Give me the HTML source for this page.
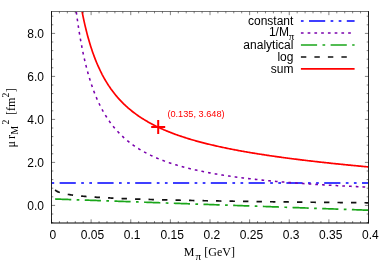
<!DOCTYPE html>
<html><head><meta charset="utf-8"><title>plot</title><style>html,body{margin:0;padding:0;background:#fff}svg{display:block;will-change:transform}</style></head><body>
<svg width="390" height="273" viewBox="0 0 390 273">
<defs><clipPath id="c"><rect x="51.50" y="11.55" width="317.00" height="211.40"/></clipPath></defs>
<rect width="100%" height="100%" fill="#fff"/>
<g clip-path="url(#c)" fill="none" stroke-width="1.70">
<path d="M51.50,183.00 H368.50" stroke="#0000ff" stroke-dasharray="2.70 5.40 16.20 5.40 2.70 5.40"/>
<path d="M76.31,11.90 L77.28,19.14 L78.26,25.85 L79.23,32.09 L80.20,37.90 L81.18,43.33 L82.15,48.42 L83.12,53.19 L84.10,57.68 L85.07,61.91 L86.05,65.90 L87.02,69.67 L87.99,73.24 L88.97,76.62 L89.94,79.83 L90.92,82.88 L91.89,85.79 L92.86,88.55 L93.84,91.19 L94.81,93.71 L95.79,96.12 L96.76,98.43 L97.73,100.64 L98.71,102.76 L99.68,104.79 L100.66,106.74 L101.63,108.61 L102.60,110.42 L103.58,112.15 L104.55,113.82 L105.53,115.43 L106.50,116.99 L107.47,118.49 L108.45,119.93 L109.42,121.33 L110.40,122.69 L111.37,124.00 L112.34,125.26 L113.32,126.49 L114.29,127.68 L115.27,128.83 L116.24,129.95 L117.21,131.03 L118.19,132.08 L119.16,133.10 L120.14,134.10 L121.11,135.06 L122.08,136.00 L123.06,136.91 L124.03,137.80 L125.01,138.66 L125.98,139.50 L126.95,140.32 L127.93,141.12 L128.90,141.90 L129.88,142.66 L130.85,143.40 L131.82,144.12 L132.80,144.82 L133.77,145.51 L134.75,146.18 L135.72,146.84 L136.69,147.48 L137.67,148.10 L138.64,148.72 L139.62,149.31 L140.59,149.90 L141.56,150.47 L142.54,151.03 L143.51,151.58 L144.49,152.12 L145.46,152.64 L146.43,153.16 L147.41,153.66 L148.38,154.15 L149.36,154.64 L150.33,155.11 L151.30,155.58 L152.28,156.03 L153.25,156.48 L154.23,156.92 L155.20,157.35 L156.17,157.77 L157.15,158.18 L158.12,158.59 L159.10,158.99 L160.07,159.38 L161.04,159.76 L162.02,160.14 L162.99,160.51 L163.96,160.88 L164.94,161.23 L165.91,161.59 L166.89,161.93 L167.86,162.27 L168.83,162.61 L169.81,162.94 L170.78,163.26 L171.76,163.58 L172.73,163.89 L173.70,164.20 L174.68,164.50 L175.65,164.80 L176.63,165.09 L177.60,165.38 L178.57,165.66 L179.55,165.94 L180.52,166.22 L181.50,166.49 L182.47,166.76 L183.44,167.02 L184.42,167.28 L185.39,167.54 L186.37,167.79 L187.34,168.04 L188.31,168.28 L189.29,168.52 L190.26,168.76 L191.24,168.99 L192.21,169.22 L193.18,169.45 L194.16,169.67 L195.13,169.89 L196.11,170.11 L197.08,170.33 L198.05,170.54 L199.03,170.75 L200.00,170.96 L200.98,171.16 L201.95,171.36 L202.92,171.56 L203.90,171.75 L204.87,171.95 L205.85,172.14 L206.82,172.33 L207.79,172.51 L208.77,172.70 L209.74,172.88 L210.72,173.06 L211.69,173.23 L212.66,173.41 L213.64,173.58 L214.61,173.75 L215.59,173.92 L216.56,174.08 L217.53,174.25 L218.51,174.41 L219.48,174.57 L220.46,174.73 L221.43,174.89 L222.40,175.04 L223.38,175.19 L224.35,175.34 L225.33,175.49 L226.30,175.64 L227.27,175.79 L228.25,175.93 L229.22,176.07 L230.20,176.21 L231.17,176.35 L232.14,176.49 L233.12,176.63 L234.09,176.76 L235.07,176.90 L236.04,177.03 L237.01,177.16 L237.99,177.29 L238.96,177.41 L239.94,177.54 L240.91,177.67 L241.88,177.79 L242.86,177.91 L243.83,178.03 L244.81,178.15 L245.78,178.27 L246.75,178.39 L247.73,178.50 L248.70,178.62 L249.67,178.73 L250.65,178.84 L251.62,178.96 L252.60,179.07 L253.57,179.17 L254.54,179.28 L255.52,179.39 L256.49,179.49 L257.47,179.60 L258.44,179.70 L259.41,179.81 L260.39,179.91 L261.36,180.01 L262.34,180.11 L263.31,180.21 L264.28,180.31 L265.26,180.40 L266.23,180.50 L267.21,180.59 L268.18,180.69 L269.15,180.78 L270.13,180.87 L271.10,180.96 L272.08,181.06 L273.05,181.14 L274.02,181.23 L275.00,181.32 L275.97,181.41 L276.95,181.50 L277.92,181.58 L278.89,181.67 L279.87,181.75 L280.84,181.83 L281.82,181.92 L282.79,182.00 L283.76,182.08 L284.74,182.16 L285.71,182.24 L286.69,182.32 L287.66,182.40 L288.63,182.48 L289.61,182.55 L290.58,182.63 L291.56,182.71 L292.53,182.78 L293.50,182.86 L294.48,182.93 L295.45,183.00 L296.43,183.08 L297.40,183.15 L298.37,183.22 L299.35,183.29 L300.32,183.36 L301.30,183.43 L302.27,183.50 L303.24,183.57 L304.22,183.63 L305.19,183.70 L306.17,183.77 L307.14,183.83 L308.11,183.90 L309.09,183.97 L310.06,184.03 L311.04,184.09 L312.01,184.16 L312.98,184.22 L313.96,184.28 L314.93,184.35 L315.91,184.41 L316.88,184.47 L317.85,184.53 L318.83,184.59 L319.80,184.65 L320.78,184.71 L321.75,184.77 L322.72,184.82 L323.70,184.88 L324.67,184.94 L325.65,185.00 L326.62,185.05 L327.59,185.11 L328.57,185.17 L329.54,185.22 L330.51,185.28 L331.49,185.33 L332.46,185.38 L333.44,185.44 L334.41,185.49 L335.38,185.54 L336.36,185.60 L337.33,185.65 L338.31,185.70 L339.28,185.75 L340.25,185.80 L341.23,185.85 L342.20,185.90 L343.18,185.95 L344.15,186.00 L345.12,186.05 L346.10,186.10 L347.07,186.15 L348.05,186.19 L349.02,186.24 L349.99,186.29 L350.97,186.34 L351.94,186.38 L352.92,186.43 L353.89,186.47 L354.86,186.52 L355.84,186.57 L356.81,186.61 L357.79,186.65 L358.76,186.70 L359.73,186.74 L360.71,186.79 L361.68,186.83 L362.66,186.87 L363.63,186.92 L364.60,186.96 L365.58,187.00 L366.55,187.04 L367.53,187.08 L368.50,187.13" stroke="#7a00ad" stroke-width="1.55" stroke-dasharray="2.70 4.05"/>
<path d="M55.07,199.02 L56.11,199.05 L57.16,199.09 L58.20,199.13 L59.25,199.17 L60.29,199.20 L61.33,199.24 L62.38,199.28 L63.42,199.32 L64.47,199.35 L65.51,199.39 L66.56,199.43 L67.60,199.47 L68.65,199.50 L69.69,199.54 L70.74,199.58 L71.78,199.61 L72.83,199.65 L73.87,199.69 L74.92,199.73 L75.96,199.76 L77.01,199.80 L78.05,199.84 L79.10,199.88 L80.14,199.91 L81.19,199.95 L82.23,199.99 L83.28,200.03 L84.32,200.06 L85.36,200.10 L86.41,200.14 L87.45,200.17 L88.50,200.21 L89.54,200.25 L90.59,200.29 L91.63,200.32 L92.68,200.36 L93.72,200.40 L94.77,200.44 L95.81,200.47 L96.86,200.51 L97.90,200.55 L98.95,200.59 L99.99,200.62 L101.04,200.66 L102.08,200.70 L103.13,200.73 L104.17,200.77 L105.22,200.81 L106.26,200.85 L107.31,200.88 L108.35,200.92 L109.39,200.96 L110.44,201.00 L111.48,201.03 L112.53,201.07 L113.57,201.11 L114.62,201.15 L115.66,201.18 L116.71,201.22 L117.75,201.26 L118.80,201.29 L119.84,201.33 L120.89,201.37 L121.93,201.41 L122.98,201.44 L124.02,201.48 L125.07,201.52 L126.11,201.56 L127.16,201.59 L128.20,201.63 L129.25,201.67 L130.29,201.71 L131.34,201.74 L132.38,201.78 L133.42,201.82 L134.47,201.85 L135.51,201.89 L136.56,201.93 L137.60,201.97 L138.65,202.00 L139.69,202.04 L140.74,202.08 L141.78,202.12 L142.83,202.15 L143.87,202.19 L144.92,202.23 L145.96,202.27 L147.01,202.30 L148.05,202.34 L149.10,202.38 L150.14,202.41 L151.19,202.45 L152.23,202.49 L153.28,202.53 L154.32,202.56 L155.37,202.60 L156.41,202.64 L157.45,202.68 L158.50,202.71 L159.54,202.75 L160.59,202.79 L161.63,202.83 L162.68,202.86 L163.72,202.90 L164.77,202.94 L165.81,202.98 L166.86,203.01 L167.90,203.05 L168.95,203.09 L169.99,203.12 L171.04,203.16 L172.08,203.20 L173.13,203.24 L174.17,203.27 L175.22,203.31 L176.26,203.35 L177.31,203.39 L178.35,203.42 L179.39,203.46 L180.44,203.50 L181.48,203.54 L182.53,203.57 L183.57,203.61 L184.62,203.65 L185.66,203.68 L186.71,203.72 L187.75,203.76 L188.80,203.80 L189.84,203.83 L190.89,203.87 L191.93,203.91 L192.98,203.95 L194.02,203.98 L195.07,204.02 L196.11,204.06 L197.16,204.10 L198.20,204.13 L199.25,204.17 L200.29,204.21 L201.34,204.24 L202.38,204.28 L203.42,204.32 L204.47,204.36 L205.51,204.39 L206.56,204.43 L207.60,204.47 L208.65,204.51 L209.69,204.54 L210.74,204.58 L211.78,204.62 L212.83,204.66 L213.87,204.69 L214.92,204.73 L215.96,204.77 L217.01,204.80 L218.05,204.84 L219.10,204.88 L220.14,204.92 L221.19,204.95 L222.23,204.99 L223.28,205.03 L224.32,205.07 L225.37,205.10 L226.41,205.14 L227.45,205.18 L228.50,205.22 L229.54,205.25 L230.59,205.29 L231.63,205.33 L232.68,205.36 L233.72,205.40 L234.77,205.44 L235.81,205.48 L236.86,205.51 L237.90,205.55 L238.95,205.59 L239.99,205.63 L241.04,205.66 L242.08,205.70 L243.13,205.74 L244.17,205.78 L245.22,205.81 L246.26,205.85 L247.31,205.89 L248.35,205.92 L249.40,205.96 L250.44,206.00 L251.48,206.04 L252.53,206.07 L253.57,206.11 L254.62,206.15 L255.66,206.19 L256.71,206.22 L257.75,206.26 L258.80,206.30 L259.84,206.34 L260.89,206.37 L261.93,206.41 L262.98,206.45 L264.02,206.48 L265.07,206.52 L266.11,206.56 L267.16,206.60 L268.20,206.63 L269.25,206.67 L270.29,206.71 L271.34,206.75 L272.38,206.78 L273.43,206.82 L274.47,206.86 L275.51,206.90 L276.56,206.93 L277.60,206.97 L278.65,207.01 L279.69,207.04 L280.74,207.08 L281.78,207.12 L282.83,207.16 L283.87,207.19 L284.92,207.23 L285.96,207.27 L287.01,207.31 L288.05,207.34 L289.10,207.38 L290.14,207.42 L291.19,207.46 L292.23,207.49 L293.28,207.53 L294.32,207.57 L295.37,207.60 L296.41,207.64 L297.46,207.68 L298.50,207.72 L299.54,207.75 L300.59,207.79 L301.63,207.83 L302.68,207.87 L303.72,207.90 L304.77,207.94 L305.81,207.98 L306.86,208.02 L307.90,208.05 L308.95,208.09 L309.99,208.13 L311.04,208.17 L312.08,208.20 L313.13,208.24 L314.17,208.28 L315.22,208.31 L316.26,208.35 L317.31,208.39 L318.35,208.43 L319.40,208.46 L320.44,208.50 L321.48,208.54 L322.53,208.58 L323.57,208.61 L324.62,208.65 L325.66,208.69 L326.71,208.73 L327.75,208.76 L328.80,208.80 L329.84,208.84 L330.89,208.87 L331.93,208.91 L332.98,208.95 L334.02,208.99 L335.07,209.02 L336.11,209.06 L337.16,209.10 L338.20,209.14 L339.25,209.17 L340.29,209.21 L341.34,209.25 L342.38,209.29 L343.43,209.32 L344.47,209.36 L345.51,209.40 L346.56,209.43 L347.60,209.47 L348.65,209.51 L349.69,209.55 L350.74,209.58 L351.78,209.62 L352.83,209.66 L353.87,209.70 L354.92,209.73 L355.96,209.77 L357.01,209.81 L358.05,209.85 L359.10,209.88 L360.14,209.92 L361.19,209.96 L362.23,209.99 L363.28,210.03 L364.32,210.07 L365.37,210.11 L366.41,210.14 L367.46,210.18 L368.50,210.22" stroke="#1aa61a" stroke-dasharray="16.20 5.40 2.70 5.40"/>
<path d="M55.07,190.06 L56.11,190.79 L57.16,191.37 L58.20,191.85 L59.25,192.27 L60.29,192.62 L61.33,192.94 L62.38,193.23 L63.42,193.49 L64.47,193.73 L65.51,193.95 L66.56,194.15 L67.60,194.34 L68.65,194.52 L69.69,194.69 L70.74,194.85 L71.78,195.00 L72.83,195.14 L73.87,195.28 L74.92,195.41 L75.96,195.53 L77.01,195.65 L78.05,195.76 L79.10,195.87 L80.14,195.98 L81.19,196.08 L82.23,196.18 L83.28,196.27 L84.32,196.36 L85.36,196.45 L86.41,196.54 L87.45,196.62 L88.50,196.70 L89.54,196.78 L90.59,196.86 L91.63,196.93 L92.68,197.01 L93.72,197.08 L94.77,197.15 L95.81,197.22 L96.86,197.28 L97.90,197.35 L98.95,197.41 L99.99,197.47 L101.04,197.53 L102.08,197.59 L103.13,197.65 L104.17,197.71 L105.22,197.76 L106.26,197.82 L107.31,197.87 L108.35,197.92 L109.39,197.97 L110.44,198.02 L111.48,198.07 L112.53,198.12 L113.57,198.17 L114.62,198.22 L115.66,198.27 L116.71,198.31 L117.75,198.36 L118.80,198.40 L119.84,198.45 L120.89,198.49 L121.93,198.53 L122.98,198.57 L124.02,198.61 L125.07,198.65 L126.11,198.69 L127.16,198.73 L128.20,198.77 L129.25,198.81 L130.29,198.85 L131.34,198.89 L132.38,198.92 L133.42,198.96 L134.47,199.00 L135.51,199.03 L136.56,199.07 L137.60,199.10 L138.65,199.13 L139.69,199.17 L140.74,199.20 L141.78,199.24 L142.83,199.27 L143.87,199.30 L144.92,199.33 L145.96,199.36 L147.01,199.39 L148.05,199.43 L149.10,199.46 L150.14,199.49 L151.19,199.52 L152.23,199.55 L153.28,199.58 L154.32,199.60 L155.37,199.63 L156.41,199.66 L157.45,199.69 L158.50,199.72 L159.54,199.74 L160.59,199.77 L161.63,199.80 L162.68,199.83 L163.72,199.85 L164.77,199.88 L165.81,199.90 L166.86,199.93 L167.90,199.96 L168.95,199.98 L169.99,200.01 L171.04,200.03 L172.08,200.06 L173.13,200.08 L174.17,200.11 L175.22,200.13 L176.26,200.15 L177.31,200.18 L178.35,200.20 L179.39,200.22 L180.44,200.25 L181.48,200.27 L182.53,200.29 L183.57,200.31 L184.62,200.34 L185.66,200.36 L186.71,200.38 L187.75,200.40 L188.80,200.42 L189.84,200.45 L190.89,200.47 L191.93,200.49 L192.98,200.51 L194.02,200.53 L195.07,200.55 L196.11,200.57 L197.16,200.59 L198.20,200.61 L199.25,200.63 L200.29,200.65 L201.34,200.67 L202.38,200.69 L203.42,200.71 L204.47,200.73 L205.51,200.75 L206.56,200.77 L207.60,200.79 L208.65,200.81 L209.69,200.83 L210.74,200.85 L211.78,200.86 L212.83,200.88 L213.87,200.90 L214.92,200.92 L215.96,200.94 L217.01,200.96 L218.05,200.97 L219.10,200.99 L220.14,201.01 L221.19,201.03 L222.23,201.04 L223.28,201.06 L224.32,201.08 L225.37,201.10 L226.41,201.11 L227.45,201.13 L228.50,201.15 L229.54,201.16 L230.59,201.18 L231.63,201.20 L232.68,201.21 L233.72,201.23 L234.77,201.24 L235.81,201.26 L236.86,201.28 L237.90,201.29 L238.95,201.31 L239.99,201.32 L241.04,201.34 L242.08,201.36 L243.13,201.37 L244.17,201.39 L245.22,201.40 L246.26,201.42 L247.31,201.43 L248.35,201.45 L249.40,201.46 L250.44,201.48 L251.48,201.49 L252.53,201.51 L253.57,201.52 L254.62,201.54 L255.66,201.55 L256.71,201.57 L257.75,201.58 L258.80,201.59 L259.84,201.61 L260.89,201.62 L261.93,201.64 L262.98,201.65 L264.02,201.66 L265.07,201.68 L266.11,201.69 L267.16,201.71 L268.20,201.72 L269.25,201.73 L270.29,201.75 L271.34,201.76 L272.38,201.77 L273.43,201.79 L274.47,201.80 L275.51,201.81 L276.56,201.83 L277.60,201.84 L278.65,201.85 L279.69,201.87 L280.74,201.88 L281.78,201.89 L282.83,201.91 L283.87,201.92 L284.92,201.93 L285.96,201.94 L287.01,201.96 L288.05,201.97 L289.10,201.98 L290.14,201.99 L291.19,202.01 L292.23,202.02 L293.28,202.03 L294.32,202.04 L295.37,202.06 L296.41,202.07 L297.46,202.08 L298.50,202.09 L299.54,202.10 L300.59,202.12 L301.63,202.13 L302.68,202.14 L303.72,202.15 L304.77,202.16 L305.81,202.17 L306.86,202.19 L307.90,202.20 L308.95,202.21 L309.99,202.22 L311.04,202.23 L312.08,202.24 L313.13,202.25 L314.17,202.27 L315.22,202.28 L316.26,202.29 L317.31,202.30 L318.35,202.31 L319.40,202.32 L320.44,202.33 L321.48,202.34 L322.53,202.35 L323.57,202.37 L324.62,202.38 L325.66,202.39 L326.71,202.40 L327.75,202.41 L328.80,202.42 L329.84,202.43 L330.89,202.44 L331.93,202.45 L332.98,202.46 L334.02,202.47 L335.07,202.48 L336.11,202.49 L337.16,202.50 L338.20,202.51 L339.25,202.52 L340.29,202.54 L341.34,202.55 L342.38,202.56 L343.43,202.57 L344.47,202.58 L345.51,202.59 L346.56,202.60 L347.60,202.61 L348.65,202.62 L349.69,202.63 L350.74,202.64 L351.78,202.65 L352.83,202.66 L353.87,202.67 L354.92,202.68 L355.96,202.69 L357.01,202.69 L358.05,202.70 L359.10,202.71 L360.14,202.72 L361.19,202.73 L362.23,202.74 L363.28,202.75 L364.32,202.76 L365.37,202.77 L366.41,202.78 L367.46,202.79 L368.50,202.80" stroke="#111" stroke-dasharray="5.40 8.10"/>
<path d="M82.14,11.90 L83.09,16.64 L84.05,21.11 L85.00,25.33 L85.95,29.32 L86.91,33.10 L87.86,36.68 L88.82,40.08 L89.77,43.32 L90.73,46.40 L91.68,49.34 L92.64,52.15 L93.59,54.83 L94.55,57.40 L95.50,59.86 L96.45,62.21 L97.41,64.47 L98.36,66.65 L99.32,68.73 L100.27,70.74 L101.23,72.67 L102.18,74.54 L103.14,76.33 L104.09,78.07 L105.05,79.74 L106.00,81.36 L106.95,82.92 L107.91,84.43 L108.86,85.90 L109.82,87.31 L110.77,88.69 L111.73,90.02 L112.68,91.31 L113.64,92.57 L114.59,93.79 L115.55,94.97 L116.50,96.12 L117.45,97.24 L118.41,98.33 L119.36,99.39 L120.32,100.42 L121.27,101.42 L122.23,102.40 L123.18,103.36 L124.14,104.29 L125.09,105.20 L126.05,106.08 L127.00,106.95 L127.95,107.79 L128.91,108.62 L129.86,109.42 L130.82,110.21 L131.77,110.98 L132.73,111.73 L133.68,112.47 L134.64,113.19 L135.59,113.90 L136.55,114.59 L137.50,115.27 L138.45,115.93 L139.41,116.58 L140.36,117.22 L141.32,117.84 L142.27,118.46 L143.23,119.06 L144.18,119.65 L145.14,120.23 L146.09,120.79 L147.05,121.35 L148.00,121.90 L148.95,122.44 L149.91,122.96 L150.86,123.48 L151.82,123.99 L152.77,124.49 L153.73,124.99 L154.68,125.47 L155.64,125.95 L156.59,126.42 L157.55,126.88 L158.50,127.33 L159.45,127.78 L160.41,128.22 L161.36,128.65 L162.32,129.08 L163.27,129.50 L164.23,129.91 L165.18,130.32 L166.14,130.72 L167.09,131.11 L168.05,131.50 L169.00,131.89 L169.95,132.26 L170.91,132.64 L171.86,133.01 L172.82,133.37 L173.77,133.73 L174.73,134.08 L175.68,134.43 L176.64,134.77 L177.59,135.11 L178.55,135.45 L179.50,135.78 L180.45,136.10 L181.41,136.42 L182.36,136.74 L183.32,137.06 L184.27,137.37 L185.23,137.67 L186.18,137.98 L187.14,138.27 L188.09,138.57 L189.05,138.86 L190.00,139.15 L190.95,139.44 L191.91,139.72 L192.86,140.00 L193.82,140.27 L194.77,140.54 L195.73,140.81 L196.68,141.08 L197.64,141.34 L198.59,141.60 L199.55,141.86 L200.50,142.12 L201.45,142.37 L202.41,142.62 L203.36,142.87 L204.32,143.11 L205.27,143.35 L206.23,143.59 L207.18,143.83 L208.14,144.06 L209.09,144.30 L210.05,144.53 L211.00,144.76 L211.95,144.98 L212.91,145.20 L213.86,145.43 L214.82,145.65 L215.77,145.86 L216.73,146.08 L217.68,146.29 L218.64,146.50 L219.59,146.71 L220.55,146.92 L221.50,147.13 L222.45,147.33 L223.41,147.53 L224.36,147.73 L225.32,147.93 L226.27,148.13 L227.23,148.32 L228.18,148.52 L229.14,148.71 L230.09,148.90 L231.05,149.09 L232.00,149.27 L232.95,149.46 L233.91,149.64 L234.86,149.83 L235.82,150.01 L236.77,150.19 L237.73,150.37 L238.68,150.54 L239.64,150.72 L240.59,150.89 L241.55,151.07 L242.50,151.24 L243.45,151.41 L244.41,151.58 L245.36,151.74 L246.32,151.91 L247.27,152.08 L248.23,152.24 L249.18,152.40 L250.14,152.56 L251.09,152.73 L252.05,152.88 L253.00,153.04 L253.95,153.20 L254.91,153.36 L255.86,153.51 L256.82,153.67 L257.77,153.82 L258.73,153.97 L259.68,154.12 L260.64,154.27 L261.59,154.42 L262.55,154.57 L263.50,154.71 L264.45,154.86 L265.41,155.01 L266.36,155.15 L267.32,155.29 L268.27,155.43 L269.23,155.58 L270.18,155.72 L271.14,155.86 L272.09,155.99 L273.05,156.13 L274.00,156.27 L274.95,156.41 L275.91,156.54 L276.86,156.68 L277.82,156.81 L278.77,156.94 L279.73,157.08 L280.68,157.21 L281.64,157.34 L282.59,157.47 L283.55,157.60 L284.50,157.72 L285.45,157.85 L286.41,157.98 L287.36,158.11 L288.32,158.23 L289.27,158.36 L290.23,158.48 L291.18,158.60 L292.14,158.73 L293.09,158.85 L294.05,158.97 L295.00,159.09 L295.95,159.21 L296.91,159.33 L297.86,159.45 L298.82,159.57 L299.77,159.69 L300.73,159.81 L301.68,159.92 L302.64,160.04 L303.59,160.15 L304.55,160.27 L305.50,160.38 L306.45,160.50 L307.41,160.61 L308.36,160.72 L309.32,160.83 L310.27,160.95 L311.23,161.06 L312.18,161.17 L313.14,161.28 L314.09,161.39 L315.05,161.50 L316.00,161.61 L316.95,161.71 L317.91,161.82 L318.86,161.93 L319.82,162.03 L320.77,162.14 L321.73,162.25 L322.68,162.35 L323.64,162.46 L324.59,162.56 L325.55,162.66 L326.50,162.77 L327.45,162.87 L328.41,162.97 L329.36,163.07 L330.32,163.18 L331.27,163.28 L332.23,163.38 L333.18,163.48 L334.14,163.58 L335.09,163.68 L336.05,163.78 L337.00,163.88 L337.95,163.97 L338.91,164.07 L339.86,164.17 L340.82,164.27 L341.77,164.36 L342.73,164.46 L343.68,164.56 L344.64,164.65 L345.59,164.75 L346.55,164.84 L347.50,164.94 L348.45,165.03 L349.41,165.12 L350.36,165.22 L351.32,165.31 L352.27,165.40 L353.23,165.50 L354.18,165.59 L355.14,165.68 L356.09,165.77 L357.05,165.86 L358.00,165.95 L358.95,166.04 L359.91,166.13 L360.86,166.22 L361.82,166.31 L362.77,166.40 L363.73,166.49 L364.68,166.58 L365.64,166.67 L366.59,166.75 L367.55,166.84 L368.50,166.93" stroke="#ff0000"/>
</g>
<path d="M151.20,127.10 h14 M158.20,120.10 v14" stroke="#ff0000" stroke-width="2.00" fill="none"/>
<g stroke="#000" fill="none">
<path d="M51.50,11.25 V223.35 M368.50,11.25 V223.35" stroke-width="0.85"/>
<path d="M51.10,11.50 H368.90" stroke-width="0.55"/>
<path d="M51.10,223.00 H368.90" stroke-width="1.0"/>
</g>
<path d="M51.50,222.95 v-3.60 M51.50,11.55 v3.60 M59.42,222.95 v-1.80 M59.42,11.55 v1.80 M67.35,222.95 v-1.80 M67.35,11.55 v1.80 M75.28,222.95 v-1.80 M75.28,11.55 v1.80 M83.20,222.95 v-1.80 M83.20,11.55 v1.80 M91.12,222.95 v-3.60 M91.12,11.55 v3.60 M99.05,222.95 v-1.80 M99.05,11.55 v1.80 M106.98,222.95 v-1.80 M106.98,11.55 v1.80 M114.90,222.95 v-1.80 M114.90,11.55 v1.80 M122.83,222.95 v-1.80 M122.83,11.55 v1.80 M130.75,222.95 v-3.60 M130.75,11.55 v3.60 M138.68,222.95 v-1.80 M138.68,11.55 v1.80 M146.60,222.95 v-1.80 M146.60,11.55 v1.80 M154.53,222.95 v-1.80 M154.53,11.55 v1.80 M162.45,222.95 v-1.80 M162.45,11.55 v1.80 M170.38,222.95 v-3.60 M170.38,11.55 v3.60 M178.30,222.95 v-1.80 M178.30,11.55 v1.80 M186.23,222.95 v-1.80 M186.23,11.55 v1.80 M194.15,222.95 v-1.80 M194.15,11.55 v1.80 M202.07,222.95 v-1.80 M202.07,11.55 v1.80 M210.00,222.95 v-3.60 M210.00,11.55 v3.60 M217.92,222.95 v-1.80 M217.92,11.55 v1.80 M225.85,222.95 v-1.80 M225.85,11.55 v1.80 M233.78,222.95 v-1.80 M233.78,11.55 v1.80 M241.70,222.95 v-1.80 M241.70,11.55 v1.80 M249.62,222.95 v-3.60 M249.62,11.55 v3.60 M257.55,222.95 v-1.80 M257.55,11.55 v1.80 M265.48,222.95 v-1.80 M265.48,11.55 v1.80 M273.40,222.95 v-1.80 M273.40,11.55 v1.80 M281.32,222.95 v-1.80 M281.32,11.55 v1.80 M289.25,222.95 v-3.60 M289.25,11.55 v3.60 M297.18,222.95 v-1.80 M297.18,11.55 v1.80 M305.10,222.95 v-1.80 M305.10,11.55 v1.80 M313.03,222.95 v-1.80 M313.03,11.55 v1.80 M320.95,222.95 v-1.80 M320.95,11.55 v1.80 M328.88,222.95 v-3.60 M328.88,11.55 v3.60 M336.80,222.95 v-1.80 M336.80,11.55 v1.80 M344.73,222.95 v-1.80 M344.73,11.55 v1.80 M352.65,222.95 v-1.80 M352.65,11.55 v1.80 M360.57,222.95 v-1.80 M360.57,11.55 v1.80 M368.50,222.95 v-3.60 M368.50,11.55 v3.60 M51.50,222.60 h1.80 M368.50,222.60 h-1.80 M51.50,214.00 h1.80 M368.50,214.00 h-1.80 M51.50,205.40 h3.60 M368.50,205.40 h-3.60 M51.50,196.80 h1.80 M368.50,196.80 h-1.80 M51.50,188.20 h1.80 M368.50,188.20 h-1.80 M51.50,179.60 h1.80 M368.50,179.60 h-1.80 M51.50,171.00 h1.80 M368.50,171.00 h-1.80 M51.50,162.40 h3.60 M368.50,162.40 h-3.60 M51.50,153.80 h1.80 M368.50,153.80 h-1.80 M51.50,145.20 h1.80 M368.50,145.20 h-1.80 M51.50,136.60 h1.80 M368.50,136.60 h-1.80 M51.50,128.00 h1.80 M368.50,128.00 h-1.80 M51.50,119.40 h3.60 M368.50,119.40 h-3.60 M51.50,110.80 h1.80 M368.50,110.80 h-1.80 M51.50,102.20 h1.80 M368.50,102.20 h-1.80 M51.50,93.60 h1.80 M368.50,93.60 h-1.80 M51.50,85.00 h1.80 M368.50,85.00 h-1.80 M51.50,76.40 h3.60 M368.50,76.40 h-3.60 M51.50,67.80 h1.80 M368.50,67.80 h-1.80 M51.50,59.20 h1.80 M368.50,59.20 h-1.80 M51.50,50.60 h1.80 M368.50,50.60 h-1.80 M51.50,42.00 h1.80 M368.50,42.00 h-1.80 M51.50,33.40 h3.60 M368.50,33.40 h-3.60 M51.50,24.80 h1.80 M368.50,24.80 h-1.80 M51.50,16.20 h1.80 M368.50,16.20 h-1.80" stroke="#000" stroke-width="0.5" fill="none"/>
<g font-family="Liberation Sans, sans-serif" font-size="12" fill="#000">
<text x="43.9" y="209.80" text-anchor="end">0.0</text>
<text x="43.9" y="166.80" text-anchor="end">2.0</text>
<text x="43.9" y="123.80" text-anchor="end">4.0</text>
<text x="43.9" y="80.80" text-anchor="end">6.0</text>
<text x="43.9" y="37.80" text-anchor="end">8.0</text>
<text x="52.80" y="239.1" text-anchor="middle">0</text>
<text x="92.42" y="239.1" text-anchor="middle">0.05</text>
<text x="132.05" y="239.1" text-anchor="middle">0.1</text>
<text x="172.18" y="239.1" text-anchor="middle">0.15</text>
<text x="211.80" y="239.1" text-anchor="middle">0.2</text>
<text x="251.43" y="239.1" text-anchor="middle">0.25</text>
<text x="291.05" y="239.1" text-anchor="middle">0.3</text>
<text x="330.68" y="239.1" text-anchor="middle">0.35</text>
<text x="370.30" y="239.1" text-anchor="middle">0.4</text>
<text x="293.4" y="24.90" text-anchor="end">constant</text>
<text x="288.9" y="35.50" text-anchor="end">1/M</text>
<text x="288.7" y="40.10" font-family="Liberation Serif, serif" font-size="11">π</text>
<text x="293.4" y="49.00" text-anchor="end">analytical</text>
<text x="293.4" y="60.90" text-anchor="end">log</text>
<text x="293.4" y="73.20" text-anchor="end">sum</text>
</g>
<g fill="none" stroke-width="1.70">
<path d="M300.90,21.00 H354.60" stroke="#0000ff" stroke-dasharray="2.70 5.40 16.20 5.40 2.70 5.40"/>
<path d="M300.90,33.00 H354.60" stroke="#7a00ad" stroke-dasharray="2.70 4.05"/>
<path d="M300.90,45.00 H354.60" stroke="#1aa61a" stroke-dasharray="16.20 5.40 2.70 5.40"/>
<path d="M300.90,57.00 H354.60" stroke="#111" stroke-dasharray="5.40 8.10"/>
<path d="M300.90,68.80 H354.60" stroke="#ff0000"/>
</g>
<text x="167.4" y="117.0" font-family="Liberation Sans, sans-serif" font-size="9.2" fill="#ff0000">(0.135, 3.648)</text>
<g font-family="Liberation Serif, serif" font-size="12" fill="#000">
<text x="183.8" y="256.3">M</text>
<text x="195.6" y="259.9" font-size="11">π</text>
<text x="204.3" y="256.3">[GeV]</text>
<g transform="translate(15.3,146.3) rotate(-90)">
<text x="-1.1" y="0">μ</text>
<text x="7.2" y="0">r</text>
<text x="11.7" y="2.7" font-size="9.6">M</text>
<text x="21.8" y="-6.7" font-size="9.6">2</text>
<text x="31.2" y="0">[fm</text>
<text x="48.7" y="-6.7" font-size="9.6">2</text>
<text x="54.0" y="0">]</text>
</g></g>
</svg>
</body></html>
